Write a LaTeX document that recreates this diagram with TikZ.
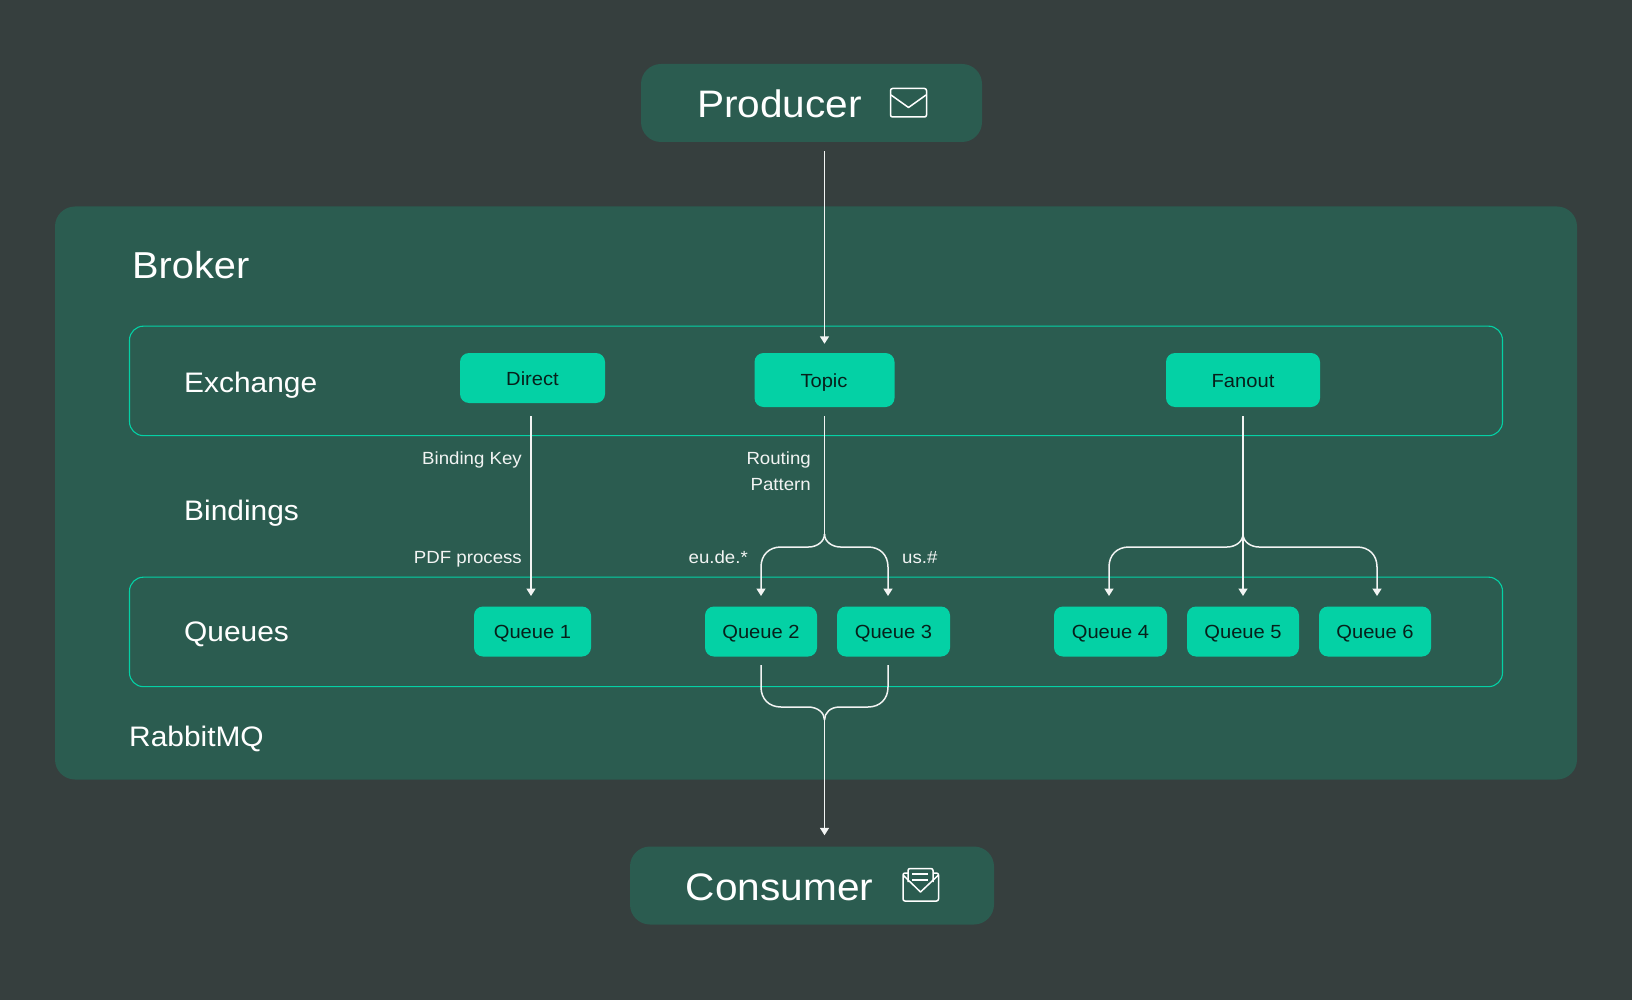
\documentclass[tikz,border=0pt]{standalone}
\usepackage{fontspec}
\setmainfont[FakeStretch=1.06]{Liberation Sans}
\usetikzlibrary{arrows.meta,calc}
\definecolor{bgc}{HTML}{363F3E}
\definecolor{panel}{HTML}{2B5C50}
\definecolor{mint}{HTML}{04D1A5}
\definecolor{ink}{HTML}{07201B}
\definecolor{wire}{HTML}{F2F4F3}
\newcommand{\fs}[1]{\fontsize{#1}{#1}\selectfont}
\tikzset{
  panelbox/.style={fill=panel,rounded corners=20pt,draw=none,inner sep=0pt},
  framebox/.style={draw=mint,line width=1.1pt,rounded corners=14pt,inner sep=0pt},
  chip/.style={fill=mint,rounded corners=9pt,text=ink,inner sep=0pt,minimum height=50pt,font=\fs{19}},
  chiptext/.style={text=ink,inner sep=0pt,font=\fs{19}},
  head/.style={text=white,inner sep=0pt,font=\fs{38.3}},
  side/.style={text=white,inner sep=0pt,anchor=west,font=\fs{28.2}},
  tag/.style={text=wire,inner sep=0pt,font=\fs{17.6}},
  wirel/.style={draw=wire,line width=1.5pt},
  arr/.style={wirel,-{Triangle[length=7.5pt,width=9pt]}},
  icon/.style={draw=white,line width=1.5pt,line join=round},
}
\begin{document}
\begin{tikzpicture}[x=1pt,y=-1pt]
\path[use as bounding box,fill=bgc] (0,0) rectangle (1632,1000);
% panels
\node[panelbox,minimum width=341pt,minimum height=78pt] (producer) at (811.5,103) {};
\node[panelbox,minimum width=364pt,minimum height=78pt] (consumer) at (812,885.5) {};
\node[panelbox,minimum width=1522pt,minimum height=573pt] (broker) at (816,493) {};
\node[framebox,minimum width=1373pt,minimum height=109.5pt] (exframe) at (816,380.9) {};
\node[framebox,minimum width=1373pt,minimum height=109.5pt] (qframe) at (816,631.9) {};
% chips
\node[chip,minimum width=145pt,minimum height=50pt] (direct) at (532.5,378) {};
\node[chiptext] (tdirect) at (532.5,379) {Direct};
\node[chip,minimum width=140pt,minimum height=54pt] (topic) at (824.5,380) {};
\node[chiptext] (ttopic) at (824,382.5) {Topic};
\node[chip,minimum width=154pt,minimum height=54pt] (fanout) at (1243,380) {};
\node[chiptext] (tfanout) at (1243,381) {Fanout};
\node[chip,minimum width=117pt] (q1) at (532.5,631.5) {};
\node[chip,minimum width=112pt] (q2) at (761,631.5) {};
\node[chip,minimum width=113pt] (q3) at (893.5,631.5) {};
\node[chip,minimum width=113pt] (q4) at (1110.5,631.5) {};
\node[chip,minimum width=112pt] (q5) at (1243,631.5) {};
\node[chip,minimum width=112pt] (q6) at (1375,631.5) {};
\node[chiptext] (tq1) at (532.5,634) {Queue 1};
\node[chiptext] (tq2) at (761,634) {Queue 2};
\node[chiptext] (tq3) at (893.5,634) {Queue 3};
\node[chiptext] (tq4) at (1110.5,634) {Queue 4};
\node[chiptext] (tq5) at (1243,634) {Queue 5};
\node[chiptext] (tq6) at (1375,634) {Queue 6};
% texts
\node[head] (tprod) at (779.5,104) {Producer};
\node[head] (tcons) at (779.5,887) {Consumer};
\node[text=white,inner sep=0pt,anchor=west,font=\fs{37.5}] (tbroker) at (132,265.5) {Broker};
\node[side] (tex) at (184,385.5) {Exchange};
\node[side] (tbi) at (184,513.5) {Bindings};
\node[side] (tqu) at (184,634.5) {Queues};
\node[side] (trm) at (129,739) {RabbitMQ};
\node[tag,anchor=east] (tbk) at (522,460) {Binding Key};
\node[tag,anchor=east] (trp) at (811,460) {Routing};
\node[tag,anchor=east] (trp2) at (811,485) {Pattern};
\node[tag,anchor=east] (tpdf) at (522,559) {PDF process};
\node[tag,anchor=east] (teu) at (748,557.5) {eu.de.*};
\node[tag,anchor=west] (tus) at (902,557.5) {us.\#};
% coordinates
\coordinate (topjoin) at (824.5,534);
\coordinate (topL) at (761,596);
\coordinate (topR) at (888,596);
\coordinate (fanjoin) at (1243,534);
\coordinate (fanL) at (1109,596);
\coordinate (fanM) at (1243,596);
\coordinate (fanR) at (1377,596);
\coordinate (botL) at (761,665);
\coordinate (botR) at (888,665);
\coordinate (botjoin) at (824.5,720);
\coordinate (dirtop) at (531,403);
\coordinate (dirbot) at (531,596);
% connectors
\draw[arr,shorten <=9pt,shorten >=9pt] (topic.north |- producer.south) -- (topic.north);
\draw[arr,shorten <=13pt] (dirtop) -- (dirbot);
\draw[wirel,shorten <=9pt] (topic.south) -- (topjoin);
\draw[wirel,shorten <=9pt] (fanout.south) -- (fanjoin);
\draw[arr] (topjoin) .. controls +(0,8) and +(8,0) .. ++(-16,13) -- (781,547) .. controls (769,547) and (761,555) .. (761,567) -- (topL);
\draw[arr] (topjoin) .. controls +(0,8) and +(-8,0) .. ++(16,13) -- (868,547) .. controls (880,547) and (888,555) .. (888,567) -- (topR);
\draw[arr] (fanjoin) .. controls +(0,8) and +(8,0) .. ++(-16,13) -- (1129,547) .. controls (1117,547) and (1109,555) .. (1109,567) -- (fanL);
\draw[arr] (fanjoin) .. controls +(0,8) and +(-8,0) .. ++(16,13) -- (1357,547) .. controls (1369,547) and (1377,555) .. (1377,567) -- (fanR);
\draw[arr] (fanjoin) -- (fanM);
\draw[wirel] (botL) -- (761,687) .. controls (761,699) and (769,707) .. (781,707) -- (808,707) .. controls (818,707) and (824.5,713) .. (botjoin);
\draw[wirel] (botR) -- (888,687) .. controls (888,699) and (880,707) .. (868,707) -- (840,707) .. controls (830,707) and (824.5,713) .. (botjoin);
\draw[arr,shorten >=11pt] (botjoin) -- (botjoin |- consumer.north) ;
% icons
\draw[icon,rounded corners=2pt] (890.5,88.5) rectangle (926.5,117);
\draw[icon] (891,95) -- (908.5,107.5) -- (926,95);
\draw[icon,rounded corners=2pt] (908,873) -- (903,873) -- (903,901) -- (938.5,901) -- (938.5,873) -- (933,873);
\draw[icon,rounded corners=2pt] (908,882) -- (908,868.5) -- (933,868.5) -- (933,882);
\draw[icon] (903.5,875.5) -- (920.5,892) -- (938,875.5);
\draw[icon] (912,874) -- (928,874);
\draw[icon] (912,880) -- (928,880);
\end{tikzpicture}
\end{document}
